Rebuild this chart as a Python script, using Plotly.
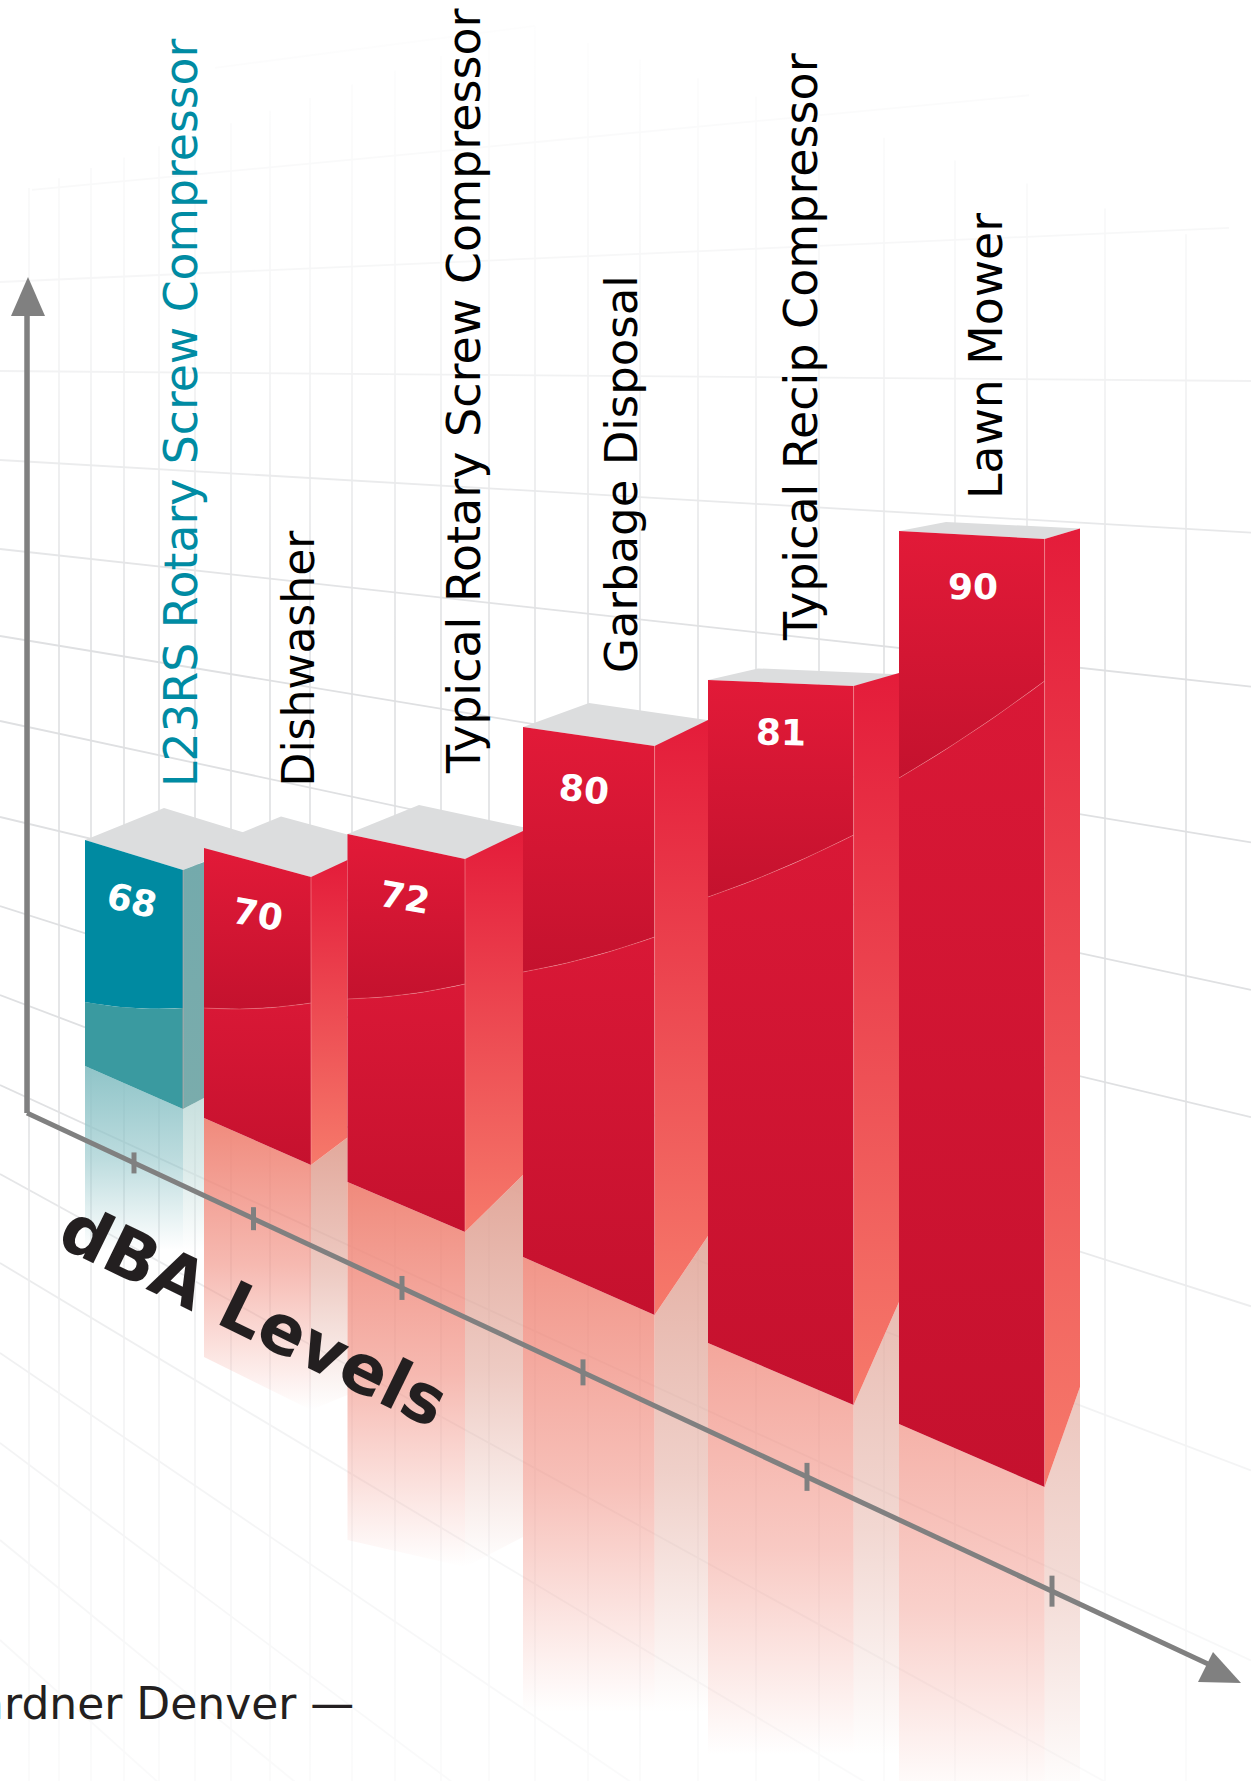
import plotly.graph_objects as go

# ---------- data ----------
categories = ["L23RS Rotary Screw Compressor", "Dishwasher", "Typical Rotary Screw Compressor",
              "Garbage Disposal", "Typical Recip Compressor", "Lawn Mower"]
dba_values = [68, 70, 72, 80, 81, 90]
title_text = "dBA Levels"
footer_text = "Gardner Denver —"

# ---------- perspective layout (canvas pixels) ----------
W, H = 1251, 1781
V0 = 55
left_x = [85, 204, 347.5, 523, 708, 899]
right_x = [183, 311, 465, 654.6, 853.6, 1044.6]
end_x = [204, 347.5, 523, 708, 899, 1080]
base_l = [1066, 1118, 1182, 1257, 1343, 1424]
base_r = [1109, 1165, 1232, 1315, 1405, 1487]
unit_l = [17.385, 18.0, 20.47, 21.2, 25.5, 25.514]
unit_r = [18.385, 19.2, 21.94, 22.76, 27.654, 27.086]
side_rise = [8, 17, 28, 26, 13, 10.6]
side_base = [1098, 1137.5, 1175, 1236, 1302, 1387]
depth_x = [79, 77, 71.5, 66, 50, 47]
depth_y = [32, 31.5, 29, 24, 11.6, 9]
shade_l = [1002, 1008, 999, 972, 897, 778]
shade_r = [1008, 1003, 984, 937, 835, 681]
fade_l = [1250, 1357, 1540, 1712, 1755, 1800]
fade_r = [1250, 1410, 1567, 1712, 1755, 1800]
fade_end = [1250, 1395, 1537, 1712, 1755, 1800]
fade_alpha = [1.0, 1.0, 1.0, 0.9, 0.76, 0.66]
label_x = [181, 298, 464, 621, 801, 986]
label_bottom = [789, 789, 776, 675, 643, 501]
label_size = [45.7, 44, 46, 45, 46, 45.7]
value_x = [132, 258, 405, 584, 781, 973]
value_y = [900, 914, 897, 789, 732, 586]
value_rot = [13, 10, 10, 6, 1, 0]
tick_x = [134, 253.5, 402, 583, 807, 1052]
tick_half = [10.5, 11.5, 12, 13, 14, 15.5]
grid_v = [29, 59, 91, 124, 159, 195, 231, 270, 310, 352, 395, 441, 489, 535, 588, 640, 698,
          756, 819, 884, 955, 1027, 1105, 1186]
grid_y0 = [96, 193, 282, 371, 460, 549, 636, 721, 817, 906, 995, 1085, 1174, 1263, 1353, 1443, 1540, 1640]
grid_s = [-0.131, -0.095, -0.044, 0.008, 0.058, 0.11, 0.165, 0.215, 0.24, 0.32, 0.38, 0.46, 0.55, 0.6,
          0.68, 0.75, 0.82, 0.9]
grid_x0 = [215, 32, 0, 0, 0, 0, 0, 0, 0, 0, 0, 0, 0, 0, 0, 0, 0, 0]
grid_x1 = [535, 1029, 1229, W, W, W, W, W, W, W, W, W, W, W, W, W, W, W]

RED_FRONT_TOP = [[0, "#e21a38"], [1, "#c4122e"]]
RED_FRONT_LOW = [[0, "#d91836"], [1, "#c5112e"]]
RED_SIDE = [[0, "#e41c3a"], [1, "#f67a6b"]]
TEAL_SIDE = [[0, "#74aaac"], [1, "#7aacac"]]
AXIS = "#808080"

fig = go.Figure()


def poly(xs, ys, color=None, gradient=None, start=None, stop=None):
    kw = dict(x=list(xs) + [xs[0]], y=list(ys) + [ys[0]], mode="lines", line=dict(width=0),
              fill="toself", hoverinfo="skip", showlegend=False)
    if gradient is not None:
        kw["fillcolor"] = "rgba(0,0,0,0)"
        kw["fillgradient"] = dict(type="vertical", colorscale=gradient, start=start, stop=stop)
    else:
        kw["fillcolor"] = color
    fig.add_trace(go.Scatter(**kw))


def seg(xs, ys, color, width):
    fig.add_trace(go.Scatter(x=xs, y=ys, mode="lines", line=dict(color=color, width=width),
                             hoverinfo="skip", showlegend=False))


# background grid
vx, vy = [], []
for x in grid_v:
    vx += [x, x, None]
    vy += [26 + abs(x - 535) * 0.32, H, None]
seg(vx, vy, "#dfe0e2", 1.6)
hx, hy = [], []
for y0, s, x0, x1 in zip(grid_y0, grid_s, grid_x0, grid_x1):
    hx += [x0, x1, None]
    hy += [y0 + s * x0, y0 + s * x1, None]
seg(hx, hy, "#dfe0e2", 1.8)
poly([0, W, W, 0], [0, 0, 650, 650],
     gradient=[[0, "rgba(255,255,255,0.97)"], [0.5, "rgba(255,255,255,0.68)"], [1, "rgba(255,255,255,0)"]],
     start=0, stop=650)
poly([0, W, W, 0], [1080, 1080, H, H],
     gradient=[[0, "rgba(255,255,255,0)"], [0.45, "rgba(255,255,255,0.6)"], [1, "rgba(255,255,255,0.85)"]],
     start=1080, stop=H)

# reflections
for i in range(len(dba_values)):
    teal = i == 0
    c1 = "143,196,200" if teal else "240,138,124"
    c2 = "200,224,222" if teal else "226,168,155"
    a = fade_alpha[i]
    m = round(a * 0.6, 3)
    poly([left_x[i], right_x[i], right_x[i], left_x[i]], [base_l[i], base_r[i], fade_r[i], fade_l[i]],
         gradient=[[0, f"rgba({c1},{a})"], [0.5, f"rgba({c1},{m})"], [1, f"rgba({c1},0)"]],
         start=base_l[i], stop=max(fade_l[i], fade_r[i]))
    poly([right_x[i], end_x[i], end_x[i], right_x[i]], [base_r[i], side_base[i], fade_end[i], fade_r[i]],
         gradient=[[0, f"rgba({c2},{a})"], [0.5, f"rgba({c2},{m})"], [1, f"rgba({c2},0)"]],
         start=side_base[i], stop=max(fade_end[i], fade_r[i]))

# axes
ax_x0, ax_y0 = 27, 1113
ax_slope = 0.4665
seg([ax_x0, ax_x0], [ax_y0, 300], AXIS, 5.5)
poly([28, 11, 45], [277, 316, 316], AXIS)
seg([ax_x0, 1222], [ax_y0, ax_y0 + ax_slope * (1222 - ax_x0)], AXIS, 5)
poly([1241, 1213, 1198], [1683, 1652, 1682], AXIS)
for tx, th in zip(tick_x, tick_half):
    ty = ax_y0 + ax_slope * (tx - ax_x0)
    seg([tx, tx], [ty - th, ty + th], AXIS, 5)

STEPS = [k / 12 for k in range(13)]
# bars
for i, v in enumerate(dba_values):
    teal = i == 0
    top_l = base_l[i] - (v - V0) * unit_l[i]
    top_r = base_r[i] - (v - V0) * unit_r[i]
    side_top = top_r - side_rise[i]
    last = i == len(dba_values) - 1
    back_x = end_x[i] if last else right_x[i] + depth_x[i]
    back_y = side_top if last else top_r - depth_y[i]
    # top face
    poly([left_x[i], left_x[i] + depth_x[i], back_x, right_x[i]],
         [top_l, top_l - depth_y[i], back_y, top_r], "#dcddde")
    # side face
    poly([right_x[i], end_x[i], end_x[i], right_x[i]], [top_r, side_top, side_base[i], base_r[i]],
         gradient=TEAL_SIDE if teal else RED_SIDE, start=side_top, stop=base_r[i])
    # front face: lit part, then shaded part, split along a shallow arc
    cx = [left_x[i] + t * (right_x[i] - left_x[i]) for t in STEPS]
    cy = [shade_l[i] + t * (shade_r[i] - shade_l[i]) + 12 * t * (1 - t) for t in STEPS]
    up_x = [left_x[i], right_x[i]] + cx[::-1]
    up_y = [top_l, top_r] + cy[::-1]
    lo_x = cx + [right_x[i], left_x[i]]
    lo_y = cy + [base_r[i], base_l[i]]
    if teal:
        poly(up_x, up_y, "#008aa1")
        poly(lo_x, lo_y, "#3a9aa0")
    else:
        poly(up_x, up_y, gradient=RED_FRONT_TOP, start=min(top_l, top_r), stop=max(shade_l[i], shade_r[i]))
        poly(lo_x, lo_y, gradient=RED_FRONT_LOW, start=min(shade_l[i], shade_r[i]), stop=base_r[i])
        seg(cx, cy, "rgba(245,150,150,0.45)", 0.8)
    seg([right_x[i], right_x[i]], [top_r, base_r[i]], "rgba(250,170,170,0.6)", 0.8)

ann = []
for i, name in enumerate(categories):
    ann.append(dict(x=label_x[i], y=label_bottom[i], text=name, textangle=-90, xanchor="center", yanchor="bottom",
                    showarrow=False, font=dict(family="DejaVu Sans", size=label_size[i],
                                               color="#008ba3" if i == 0 else "#000000")))
    ann.append(dict(x=value_x[i], y=value_y[i], text=f"<b>{dba_values[i]}</b>", textangle=value_rot[i],
                    showarrow=False, font=dict(family="DejaVu Sans", size=36, color="#ffffff")))
ann.append(dict(x=254, y=1315, text=f"<b>{title_text}</b>", textangle=26, showarrow=False,
                font=dict(family="DejaVu Sans", size=68, color="#231f20")))
ann.append(dict(x=356, y=1703, text=footer_text, xanchor="right", showarrow=False,
                font=dict(family="DejaVu Sans", size=44, color="#231f20")))

fig.update_layout(width=W, height=H, margin=dict(l=0, r=0, t=0, b=0), paper_bgcolor="white", plot_bgcolor="white",
                  xaxis=dict(range=[0, W], visible=False, fixedrange=True),
                  yaxis=dict(range=[H, 0], visible=False, fixedrange=True),
                  annotations=ann, showlegend=False)
fig.write_html("out.html", post_script="document.body.style.margin='0';document.body.style.overflow='hidden';",
               config={"displayModeBar": False})
